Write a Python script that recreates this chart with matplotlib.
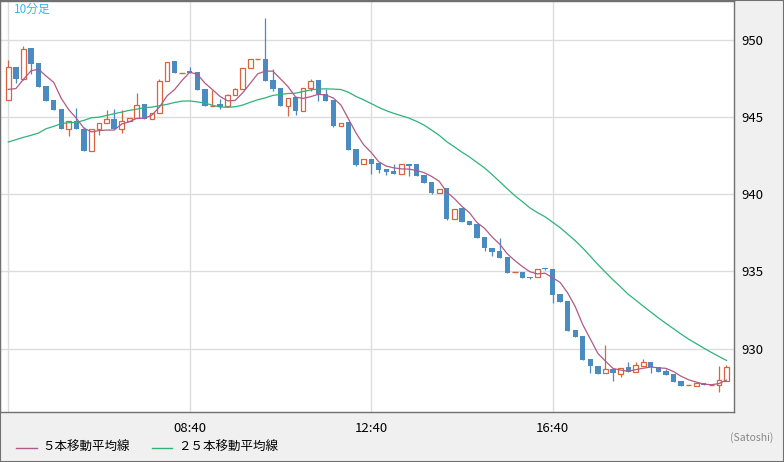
import matplotlib.pyplot as plt
import numpy as np
import pandas as pd
from matplotlib.lines import Line2D
from matplotlib.patches import Rectangle

plt.rcParams['font.family'] = ['Noto Sans CJK JP', 'DejaVu Sans']

# 10-minute bars, 04:40 .. 20:30
opens = [946.13, 948.28, 947.44, 949.47, 948.48, 946.99, 946.08, 945.50, 944.25, 944.72,
         944.25, 942.80, 944.25, 944.64, 944.85, 944.25, 944.74, 944.92, 945.83, 944.90,
         945.29, 947.36, 948.61, 947.87, 947.96, 947.92, 946.80, 945.74, 945.83, 945.72,
         946.45, 946.84, 948.20, 948.78, 948.78, 947.38, 946.86, 945.74, 946.30, 945.42,
         946.91, 947.38, 946.52, 946.08, 944.45, 944.68, 942.91, 941.94, 942.27, 942.00,
         941.62, 941.49, 941.31, 941.94, 941.94, 941.23, 940.78, 940.11, 940.39, 938.43,
         939.09, 938.27, 938.08, 937.20, 936.50, 936.31, 935.92, 934.95, 934.95, 934.63,
         934.61, 935.21, 935.15, 933.53, 933.09, 931.20, 930.81, 929.30, 928.87, 928.43,
         928.67, 928.35, 928.78, 928.46, 928.89, 929.13, 928.78, 928.56, 928.35, 927.90,
         927.64, 927.60, 927.77, 927.66, 927.64, 927.92]
highs = [948.72, 948.28, 949.60, 949.50, 948.48, 946.99, 946.08, 945.50, 944.72, 945.57,
         944.36, 944.25, 944.64, 945.48, 945.55, 945.44, 944.96, 946.56, 945.83, 945.29,
         947.44, 948.59, 948.61, 947.87, 948.24, 947.92, 946.80, 946.73, 946.15, 946.52,
         946.90, 948.20, 948.78, 948.78, 951.44, 948.09, 946.86, 946.26, 946.30, 946.91,
         947.44, 947.38, 946.84, 946.08, 944.64, 944.68, 942.91, 942.28, 942.27, 942.00,
         941.62, 941.94, 941.94, 941.94, 941.94, 941.23, 940.78, 940.37, 940.39, 939.07,
         939.09, 938.27, 938.08, 937.20, 936.50, 937.17, 935.92, 934.95, 934.95, 934.63,
         935.19, 935.25, 935.15, 933.53, 933.09, 931.20, 930.81, 929.30, 928.90, 930.23,
         928.67, 928.76, 929.10, 929.10, 929.32, 929.13, 928.78, 928.70, 928.35, 927.90,
         927.64, 927.77, 927.77, 927.66, 928.87, 928.93]
lows = [946.13, 947.20, 947.40, 947.81, 946.95, 946.04, 945.44, 944.23, 943.80, 944.23,
        942.80, 942.80, 943.86, 944.64, 944.21, 943.97, 944.74, 944.92, 944.85, 944.90,
        945.29, 947.36, 947.85, 947.87, 947.88, 946.73, 945.72, 945.74, 945.52, 945.72,
        946.45, 946.84, 948.20, 948.78, 947.33, 946.69, 945.72, 945.05, 945.16, 945.42,
        946.67, 946.04, 946.04, 944.36, 944.45, 942.85, 941.81, 941.94, 941.34, 941.38,
        941.25, 941.31, 941.31, 941.18, 941.18, 940.73, 940.00, 940.11, 938.32, 938.43,
        938.21, 938.01, 937.17, 936.31, 935.99, 935.90, 934.91, 934.95, 934.58, 934.50,
        934.61, 935.10, 932.93, 933.05, 931.15, 930.76, 929.26, 928.43, 928.37, 928.43,
        927.92, 928.17, 928.46, 928.46, 928.89, 928.43, 928.50, 928.30, 927.85, 927.60,
        927.64, 927.60, 927.62, 927.66, 927.20, 927.90]
closes = [948.28, 947.46, 949.43, 948.43, 946.95, 946.04, 945.44, 944.23, 944.72, 944.23,
          942.80, 944.25, 944.64, 944.90, 944.21, 944.77, 944.96, 945.81, 944.85, 945.29,
          947.36, 948.59, 947.85, 947.87, 947.88, 946.73, 945.72, 945.74, 945.65, 946.45,
          946.84, 948.20, 948.78, 948.78, 947.33, 946.80, 945.72, 946.26, 945.39, 946.91,
          947.36, 946.47, 946.04, 944.42, 944.64, 942.85, 941.88, 942.28, 941.94, 941.60,
          941.44, 941.31, 941.94, 941.86, 941.18, 940.73, 940.08, 940.37, 938.38, 939.07,
          938.21, 938.01, 937.17, 936.52, 936.25, 935.90, 934.91, 934.95, 934.58, 934.56,
          935.19, 935.15, 933.48, 933.05, 931.15, 930.76, 929.26, 928.87, 928.37, 928.65,
          928.40, 928.76, 928.46, 928.91, 929.11, 928.78, 928.50, 928.30, 927.85, 927.60,
          927.64, 927.77, 927.62, 927.66, 927.96, 928.78]

# moving averages before enough bars are on screen
ma5_head = [946.80, 946.85, 947.45, 948.00]
ma25_head = [943.39, 943.54, 943.69, 943.82, 943.97, 944.25, 944.40, 944.58, 944.64, 944.66,
             944.79, 944.96, 945.00, 945.11, 945.22, 945.33, 945.44, 945.52, 945.61, 945.65,
             945.74, 945.83, 945.95, 946.04]

tick_pos = [0, 24, 48, 72]
tick_labels = ['', '08:40', '12:40', '16:40']

df = pd.DataFrame({'open': opens, 'high': highs, 'low': lows, 'close': closes})
x = np.arange(len(df))
o = df['open'].to_numpy()
c = df['close'].to_numpy()
ma5 = df['close'].rolling(5).mean().to_numpy()
ma5[:4] = ma5_head
ma25 = df['close'].rolling(25).mean().to_numpy()
ma25[:24] = ma25_head

red = '#d9623f'
blue = '#4a8bc2'

fig = plt.figure(figsize=(7.84, 4.62), dpi=100, facecolor='#f0f0f0')
ax = fig.add_axes([0, 50 / 462, 734 / 784, 411.5 / 462])
ax.set_facecolor('white')

up = c > o
down = c < o
flat = c == o
ax.vlines(x, df['low'], df['high'], colors=np.where(c >= o, red, blue), lw=0.9, zorder=2)
ax.bar(x[down], (o - c)[down], bottom=c[down], width=0.7, color=blue, zorder=3)
ax.bar(x[up], (c - o)[up], bottom=o[up], width=0.62, facecolor='white',
       edgecolor=red, lw=0.9, zorder=3)
ax.hlines(c[flat], x[flat] - 0.36, x[flat] + 0.36, color=red, lw=1, zorder=3)

ax.plot(x, ma25, color='#2db37a', lw=0.9, zorder=4)
ax.plot(x, ma5, color='#b05a86', lw=0.9, zorder=4)

ax.set_xlim(-1.1, 96)
ax.set_ylim(925.89, 952.56)
ax.set_yticks([930, 935, 940, 945, 950])
ax.set_xticks(tick_pos)
ax.set_xticklabels(tick_labels)
ax.yaxis.tick_right()
ax.tick_params(length=0, labelsize=9.5, pad=5)
ax.tick_params(axis='x', pad=7)
ax.grid(color='#dddddd', lw=1)
ax.set_axisbelow(True)
for s in ax.spines.values():
    s.set_color('#707070')
    s.set_linewidth(1)

fig.text(14 / 784, 1 - 9.5 / 462, '10分足', color='#3cb5ea', fontsize=8.5,
         ha='left', va='center')

ly = 1 - 447.5 / 462
fig.add_artist(Line2D([16 / 784, 37 / 784], [ly, ly], color='#b05a86', lw=1))
fig.text(42 / 784, ly, '５本移動平均線', fontsize=9, ha='left', va='center')
fig.add_artist(Line2D([152 / 784, 172 / 784], [ly, ly], color='#2db37a', lw=1))
fig.text(178 / 784, ly, '２５本移動平均線', fontsize=9, ha='left', va='center')
fig.text(773 / 784, 1 - 437.5 / 462, '(Satoshi)', fontsize=7.5, color='#888888',
         ha='right', va='center')

fig.add_artist(Rectangle((0, 0), 1, 1, transform=fig.transFigure, fill=False,
                         edgecolor='#707070', lw=1.5))

fig.savefig('out.png', dpi=100, facecolor=fig.get_facecolor())
